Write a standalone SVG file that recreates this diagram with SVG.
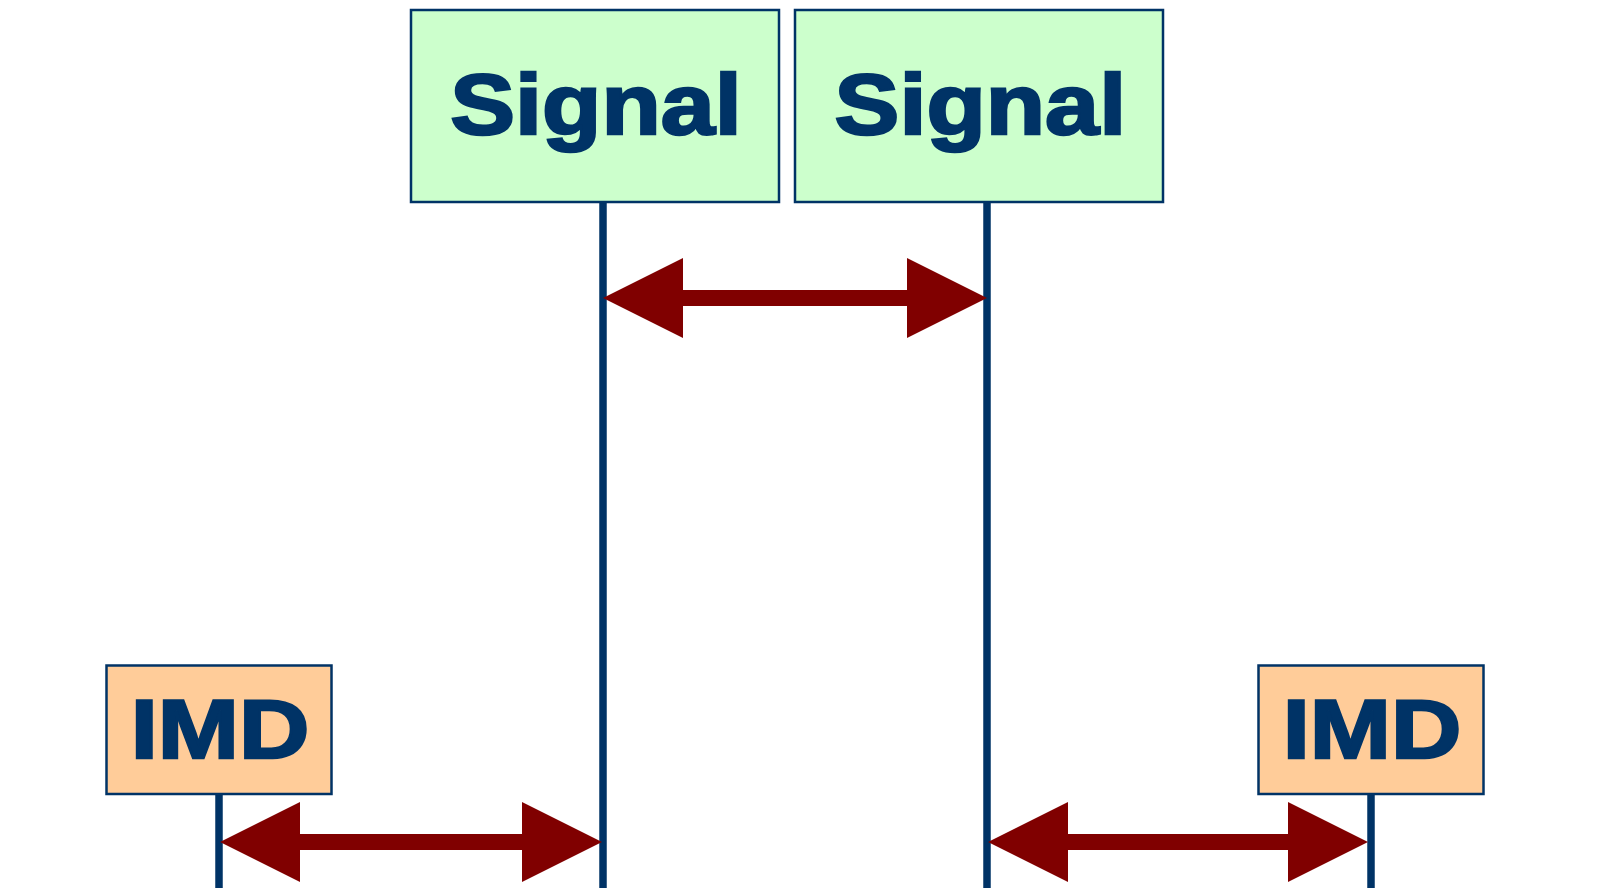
<svg xmlns="http://www.w3.org/2000/svg" width="1621" height="888" viewBox="0 0 1621 888">
<style>
.sig{fill:#CCFFCC;stroke:#003366;stroke-width:2.5}
.imd{fill:#FFCC99;stroke:#003366;stroke-width:2.5}
.lbl{font-family:"Liberation Sans",Arial,sans-serif;font-weight:bold;fill:#003366;stroke:#003366;stroke-width:2.5;stroke-linejoin:miter;stroke-miterlimit:4}
.life{stroke:#003366;stroke-width:7.5;fill:none}
.arr{fill:#800000}
</style>
<rect width="1621" height="888" fill="#ffffff"/>
<g id="connectors">
<line class="life" x1="603" y1="202" x2="603" y2="888"/>
<line class="life" x1="987" y1="202" x2="987" y2="888"/>
<line class="life" x1="219" y1="794" x2="219" y2="888"/>
<line class="life" x1="1371" y1="794" x2="1371" y2="888"/>
<polygon class="arr" points="603,298 683,258 683,290 907,290 907,258 987,298 907,338 907,306 683,306 683,338"/>
<polygon class="arr" points="220,842 300,802 300,834 522,834 522,802 602,842 522,882 522,850 300,850 300,882"/>
<polygon class="arr" points="988,842 1068,802 1068,834 1288,834 1288,802 1368,842 1288,882 1288,850 1068,850 1068,882"/>
</g>
<g id="signal1">
<rect class="sig" x="411" y="10" width="368" height="192"/>
<text class="lbl" transform="translate(450.3,134) scale(1.13,1)" font-size="86">Signal</text>
</g>
<g id="signal2">
<rect class="sig" x="795" y="10" width="368" height="192"/>
<text class="lbl" transform="translate(834.6,134) scale(1.13,1)" font-size="86">Signal</text>
</g>
<g id="imd1">
<rect class="imd" x="106.5" y="665.5" width="225" height="128.5"/>
<text class="lbl" transform="translate(130.7,757.5) scale(1.16,1)" font-size="84">IMD</text>
</g>
<g id="imd2">
<rect class="imd" x="1258.5" y="665.5" width="225" height="128.5"/>
<text class="lbl" transform="translate(1282.7,757.5) scale(1.16,1)" font-size="84">IMD</text>
</g>
</svg>
